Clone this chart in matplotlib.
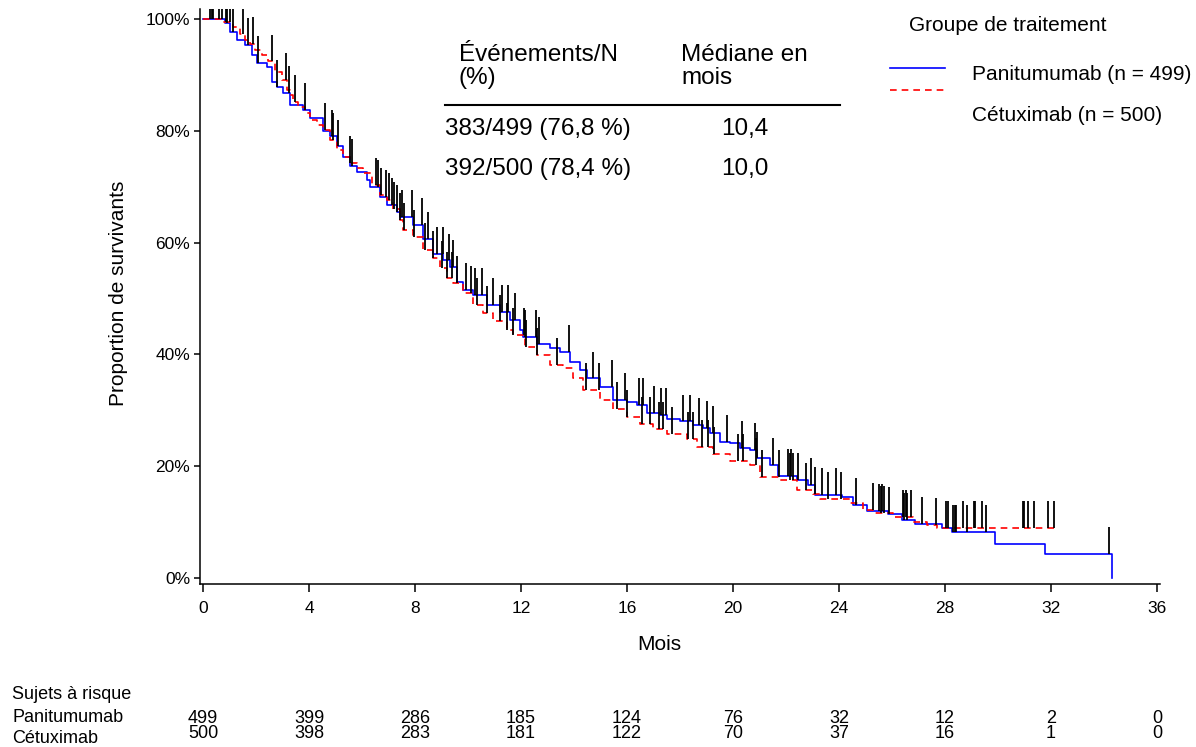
import numpy as np
import matplotlib
matplotlib.use("Agg")
import matplotlib.pyplot as plt
from matplotlib.lines import Line2D
from matplotlib.transforms import blended_transform_factory

plt.rcParams["font.family"] = ["Liberation Sans", "DejaVu Sans"]

# Kaplan-Meier steps (months, % surviving after the drop)
pani_t = [0.83, 1.02, 1.27, 1.58, 1.84, 2.03, 2.40, 2.59, 2.78, 3.02, 3.28, 3.77, 4.04,
          4.53, 4.79, 5.05, 5.28, 5.55, 5.80, 6.18, 6.30, 6.68, 6.93, 7.31, 7.43, 7.94,
          8.31, 8.69, 9.07, 9.32, 9.57, 9.82, 10.20, 10.71, 11.21, 11.58, 11.96, 12.09,
          12.59, 13.09, 13.47, 13.85, 14.23, 14.48, 14.98, 15.48, 15.99, 16.37, 16.74,
          17.25, 17.50, 18.00, 18.50, 18.88, 19.13, 19.51, 19.89, 20.26, 20.64, 20.89,
          21.40, 21.70, 22.40, 22.83, 23.09, 24.10, 24.53, 25.05, 25.85, 26.37, 26.87,
          27.88, 28.25, 29.89, 31.77, 34.29]
pani_s = [99.3, 97.7, 96.2, 95.3, 93.6, 92.1, 91.5, 88.8, 87.9, 86.8, 84.6, 83.7, 82.3,
          79.9, 79.0, 77.2, 75.4, 73.7, 72.7, 71.2, 70.0, 68.2, 66.7, 65.5, 64.6, 63.1,
          60.7, 58.0, 56.8, 55.6, 52.9, 51.5, 50.6, 48.8, 47.6, 46.2, 44.4, 43.1,
          41.9, 41.1, 40.5, 38.7, 37.2, 35.7, 34.2, 31.8, 31.5, 30.9, 29.5,
          29.2, 28.4, 28.0, 27.4, 26.8, 25.9, 24.4, 24.1, 23.2, 22.9, 21.4,
          20.2, 18.2, 17.5, 16.6, 14.8, 14.5, 13.1, 12.0, 11.4, 10.4, 9.7,
          8.9, 8.2, 6.1, 4.3, 0.0]

cetu_t = [0.80, 1.13, 1.40, 1.58, 1.77, 1.96, 2.22, 2.45, 2.72, 2.97, 3.16, 3.28, 3.40,
          3.58, 3.85, 4.04, 4.29, 4.53, 4.79, 5.05, 5.28, 5.55, 5.80, 6.04, 6.37, 6.68,
          6.93, 7.17, 7.43, 7.55, 7.92, 8.30, 8.68, 8.94, 9.20, 9.43, 9.81, 10.19, 10.57,
          10.94, 11.46, 11.70, 12.15, 12.59, 13.09, 13.58, 13.96, 14.34, 14.98, 15.47,
          15.99, 16.49, 16.98, 17.50, 18.25, 18.63, 19.25, 19.89, 20.64, 21.02, 21.77,
          22.40, 23.02, 23.28, 24.42, 24.91, 25.28, 26.04, 26.79, 27.31, 27.69]
cetu_s = [99.4, 98.6, 97.4, 96.2, 95.6, 94.5, 93.6, 92.4, 90.6, 89.1, 87.3, 86.4, 85.2,
          84.3, 83.1, 81.9, 81.0, 80.1, 78.4, 76.6, 75.4, 74.2, 73.3, 72.4, 70.3, 68.6,
          67.6, 66.0, 64.0, 62.2, 61.0, 58.7, 57.2, 55.4, 53.6, 52.8, 51.0, 48.8, 47.4,
          45.9, 44.4, 43.5, 41.4, 39.9, 38.1, 37.5, 35.7, 33.6, 31.8, 30.3,
          28.8, 27.6, 26.7, 25.8, 24.9, 23.4, 22.2, 21.0, 20.2, 18.1, 17.5,
          15.7, 15.1, 14.1, 13.4, 12.2, 11.6, 11.0, 10.1, 9.5, 9.0]
cetu_end = 32.1

# censored observations (months)
pani_cens = [0.26, 0.39, 0.70, 0.92, 1.12, 1.69, 2.09, 2.78, 3.26, 3.85, 4.86, 5.11, 5.63,
             6.62, 6.91, 7.12, 7.33, 7.51, 7.89, 8.26, 8.49, 8.83, 9.06, 9.28, 9.43, 9.92,
             10.26, 10.53, 10.94, 11.28, 11.51, 11.77, 12.15, 12.57, 12.68, 13.81, 14.72,
             15.43, 15.92, 16.45, 16.60, 17.02, 17.28, 17.47, 18.11, 18.38, 18.72, 19.02,
             19.25, 19.77, 20.34, 20.83, 20.91, 21.51, 22.08, 22.19, 22.45, 22.94, 23.35,
             23.89, 24.64, 25.51, 25.62, 25.89, 26.45, 26.57, 27.12, 28.30, 28.38, 28.42,
             28.82, 29.55, 34.2]
cetu_cens = [0.33, 0.62, 0.87, 1.02, 1.52, 1.88, 2.59, 3.13, 3.47, 4.60, 4.92, 5.55, 6.53,
             6.72, 7.02, 7.21, 7.43, 7.60, 7.96, 8.38, 8.68, 9.02, 9.21, 9.40, 9.58, 10.11,
             10.34, 10.72, 11.21, 11.47, 11.70, 12.11, 12.19, 12.60, 13.36, 14.45, 14.94,
             15.62, 16.00, 16.57, 16.87, 17.21, 17.36, 17.70, 18.30, 18.49, 18.83, 19.06,
             19.28, 20.19, 20.38, 20.87, 21.08, 21.74, 22.15, 22.25, 22.74, 23.09, 23.58,
             24.08, 25.27, 25.57, 25.70, 26.40, 26.53, 26.71, 27.66, 28.04, 28.10, 28.68,
             29.09, 29.13, 29.38, 30.93, 30.98, 31.13, 31.36, 31.89, 32.11]

risk_months = [0, 4, 8, 12, 16, 20, 24, 28, 32, 36]
risk_pani = [499, 399, 286, 185, 124, 76, 32, 12, 2, 0]
risk_cetu = [500, 398, 283, 181, 122, 70, 37, 16, 1, 0]

W, H = 1196, 747


def fx(x):
    return x / W


def fy(y):
    return 1 - y / H


def step_value(t, s, q):
    idx = np.searchsorted(t, q, side="right") - 1
    return s[idx]


fig = plt.figure(figsize=(W / 100, H / 100), dpi=100)
ax = fig.add_axes([fx(200), fy(584), (1160 - 200) / W, (584 - 9) / H])

tp = np.r_[0.0, pani_t]
sp = np.r_[100.0, pani_s]
tc = np.r_[0.0, cetu_t, cetu_end]
sc = np.r_[100.0, cetu_s, cetu_s[-1]]

ax.step(tp, sp, where="post", color="blue", lw=1.2, zorder=2)
ax.step(tc, sc, where="post", color="red", lw=1.2, ls=(0, (4, 3)), zorder=3)

tick_len = 4.8
yp = step_value(tp, sp, np.array(pani_cens))
yc = step_value(tc, sc, np.array(cetu_cens))
ax.vlines(pani_cens, yp, yp + tick_len, color="black", lw=1.3, zorder=4)
ax.vlines(cetu_cens, yc, yc + tick_len, color="black", lw=1.3, zorder=4)

ax.set_xlim(-0.113, 36.11)
ax.set_ylim(-1.07, 101.79)
ax.set_xticks(range(0, 37, 4))
ax.set_yticks(range(0, 101, 20))
ax.set_yticklabels([f"{v}%" for v in range(0, 101, 20)])
ax.tick_params(axis="x", length=6, width=1.1, labelsize=12.5, pad=6)
ax.tick_params(axis="y", length=4, width=1.1, labelsize=12.5, pad=3)
for side in ["top", "right"]:
    ax.spines[side].set_visible(False)
for side in ["left", "bottom"]:
    ax.spines[side].set_linewidth(1.1)

fig.text(fx(659), fy(650), "Mois", fontsize=15, ha="center", va="baseline")
fig.text(fx(118), fy(293), "Proportion de survivants", fontsize=15, rotation=90,
         ha="center", va="center")

# summary table
tfs = 17.5
fig.text(fx(459), fy(61), "Événements/N", fontsize=tfs, va="baseline")
fig.text(fx(459), fy(84), "(%)", fontsize=tfs, va="baseline")
fig.text(fx(681), fy(61), "Médiane en", fontsize=tfs, va="baseline")
fig.text(fx(681), fy(84), "mois", fontsize=tfs, va="baseline")
fig.add_artist(Line2D([fx(445), fx(840)], [fy(105), fy(105)], color="black", lw=1.5,
                      transform=fig.transFigure))
fig.text(fx(445), fy(135), "383/499 (76,8 %)", fontsize=tfs, va="baseline")
fig.text(fx(445), fy(175), "392/500 (78,4 %)", fontsize=tfs, va="baseline")
fig.text(fx(745), fy(135), "10,4", fontsize=tfs, va="baseline", ha="center")
fig.text(fx(745), fy(175), "10,0", fontsize=tfs, va="baseline", ha="center")

# legend
fig.text(fx(909), fy(31), "Groupe de traitement", fontsize=15, va="baseline")
fig.add_artist(Line2D([fx(890), fx(945)], [fy(68), fy(68)], color="blue", lw=1.2,
                      transform=fig.transFigure))
fig.add_artist(Line2D([fx(890), fx(945)], [fy(90), fy(90)], color="red", lw=1.2,
                      ls=(0, (4, 3)), transform=fig.transFigure))
fig.text(fx(972), fy(80), "Panitumumab (n = 499)", fontsize=15, va="baseline")
fig.text(fx(972), fy(121), "Cétuximab (n = 500)", fontsize=15, va="baseline")

# number at risk
fig.text(fx(12), fy(699), "Sujets à risque", fontsize=13, va="baseline")
fig.text(fx(12), fy(722), "Panitumumab", fontsize=13, va="baseline")
fig.text(fx(12), fy(743), "Cétuximab", fontsize=13, va="baseline")
trans = blended_transform_factory(ax.transData, fig.transFigure)
narrow = ["Liberation Sans Narrow", "Liberation Sans"]
for m, a, b in zip(risk_months, risk_pani, risk_cetu):
    ax.text(m, fy(723), str(a), transform=trans, ha="center", va="baseline",
            fontsize=13, family=narrow)
    ax.text(m, fy(738), str(b), transform=trans, ha="center", va="baseline",
            fontsize=13, family=narrow)

fig.savefig("out.png", dpi=100)
